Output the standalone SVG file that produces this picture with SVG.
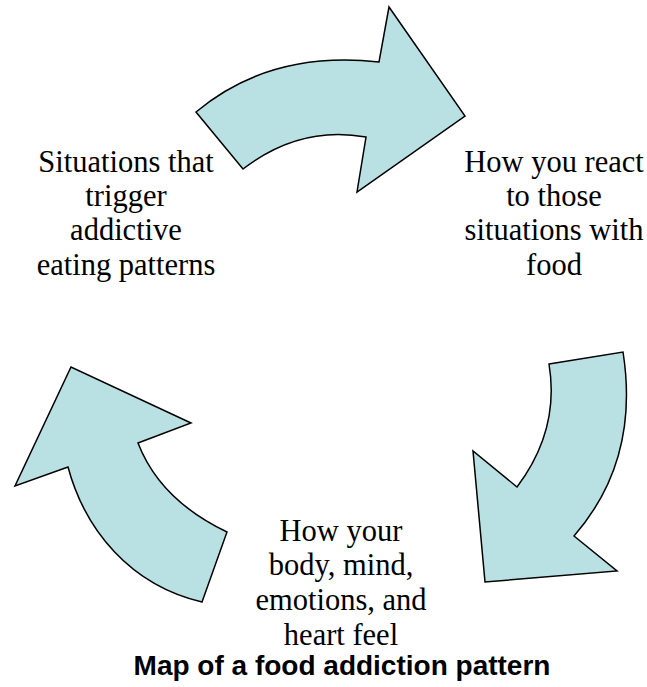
<svg xmlns="http://www.w3.org/2000/svg" width="647" height="687" viewBox="0 0 647 687">
<style>
.arrow{fill:#b9e0e3;stroke:#000;stroke-width:1.5;stroke-linejoin:miter}
.lbl{font-family:"Liberation Serif","Times New Roman",serif;font-size:30.5px;fill:#000;text-anchor:middle}
.cap{font-family:"Liberation Sans",Arial,sans-serif;font-size:28px;font-weight:bold;fill:#000;text-anchor:middle}
</style>
<rect width="647" height="687" fill="#fff"/>
<g id="connectors">
<path id="arrow-top" class="arrow" d="M196,112 Q270,50 379,62 L389,7 L465,116 L357,192 L366,137 Q300,125 243,169 Z"/>
<path id="arrow-right" class="arrow" d="M549,364 L623,352 Q640,460 574,536 L617,571 L485,582 L473,451 L517,487 Q560,430 549,364 Z"/>
<path id="arrow-left" class="arrow" d="M202,602 L227,532 Q160,500 138,443 L191,423 L71,367 L15,486 L68,467 C85,530 130,585 202,602 Z"/>
</g>
<g id="node-situations">
<text class="lbl" x="126" y="172">Situations that</text>
<text class="lbl" x="126" y="206">trigger</text>
<text class="lbl" x="126" y="240">addictive</text>
<text class="lbl" x="126" y="275">eating patterns</text>
</g>
<g id="node-react">
<text class="lbl" x="554" y="172">How you react</text>
<text class="lbl" x="554" y="206">to those</text>
<text class="lbl" x="554" y="240">situations with</text>
<text class="lbl" x="554" y="275">food</text>
</g>
<g id="node-feel">
<text class="lbl" x="341" y="541">How your</text>
<text class="lbl" x="341" y="575">body, mind,</text>
<text class="lbl" x="341" y="610">emotions, and</text>
<text class="lbl" x="341" y="645">heart feel</text>
</g>
<g id="caption">
<text class="cap" x="342" y="675">Map of a food addiction pattern</text>
</g>
</svg>
